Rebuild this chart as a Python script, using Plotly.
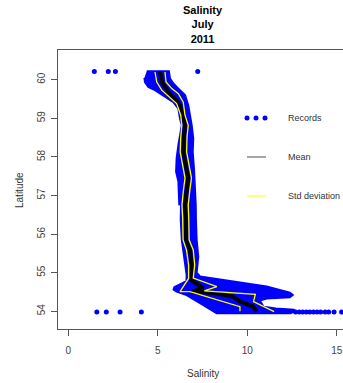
import plotly.graph_objects as go

# ---- data ----
# outline of the dense cloud of records (salinity, latitude)
cloud_sal = [4.38, 5.0, 5.62, 5.68, 5.87, 6.15, 6.52, 6.70, 6.80, 6.89, 6.98, 6.95, 7.02, 7.08, 7.12,
             7.13, 7.17, 7.26, 7.17, 7.36, 9.22, 11.08, 12.38, 12.54, 12.38, 11.08, 10.70, 10.90,
             11.60, 12.60, 12.70, 12.40, 10.5, 8.29, 7.36, 6.61, 6.05, 5.88, 5.92, 6.30, 6.60,
             6.61, 6.52, 6.42, 6.34, 6.28, 6.30, 6.20, 6.15, 6.02, 6.05, 6.15, 6.24, 6.34, 6.24,
             6.15, 5.87, 5.31, 4.84, 4.47, 4.28, 4.25]
cloud_lat = [60.22, 60.22, 60.22, 60.03, 59.90, 59.77, 59.60, 59.34, 59.08, 58.83, 58.48, 58.13,
             57.70, 57.27, 56.75, 56.37, 55.85, 55.41, 55.00, 54.90, 54.77, 54.64, 54.48, 54.42,
             54.36, 54.33, 54.28, 54.12, 54.07, 54.04, 54.00, 53.95, 53.95, 53.95, 54.21, 54.42,
             54.51, 54.56, 54.62, 54.70, 54.78, 54.94, 55.24, 55.59, 55.85, 56.37, 56.88, 56.75,
             57.36, 57.62, 57.96, 58.31, 58.57, 58.83, 58.99, 59.25, 59.42, 59.60, 59.73, 59.81,
             59.94, 60.05]

# isolated records
out_sal = [1.45, 2.23, 2.63, 7.23, 1.59, 2.12, 2.89, 4.08,
           12.7, 12.9, 13.1, 13.3, 13.5, 13.7, 13.9, 14.1, 14.35, 14.55, 14.85, 15.27]
out_lat = [60.21, 60.21, 60.21, 60.21, 53.98, 53.98, 53.98, 53.98,
           53.98, 53.98, 53.98, 53.98, 53.98, 53.98, 53.98, 53.98, 53.98, 53.98, 53.98, 53.98]

# mean
mean_sal = [5.12, 5.22, 5.59, 5.96, 6.24, 6.39, 6.50, 6.52, 6.45, 6.43, 6.55, 6.70, 6.60, 6.52,
            6.56, 6.58, 6.80, 6.89, 6.86, 7.54, 6.89, 8.10, 9.22, 9.59, 10.34, 10.52]
mean_lat = [60.22, 59.94, 59.68, 59.51, 59.34, 59.08, 58.95, 58.82, 58.50, 58.13, 57.80, 57.45,
            57.10, 56.75, 56.40, 55.85, 55.59, 55.20, 54.81, 54.60, 54.51, 54.47, 54.38, 54.25,
            54.12, 53.99]

# std deviation, left and right
sdl_sal = [4.84, 4.94, 5.22, 5.68, 6.05, 6.28, 6.34, 6.28, 6.25, 6.38, 6.52, 6.42, 6.35, 6.39,
           6.41, 6.60, 6.72, 6.72, 6.24, 6.80, 9.59, 9.59]
sdl_lat = [60.20, 59.94, 59.73, 59.55, 59.38, 59.08, 58.82, 58.50, 58.13, 57.80, 57.45, 57.10,
           56.75, 56.40, 55.85, 55.59, 55.20, 54.85, 54.51, 54.51, 54.12, 54.00]
sdr_sal = [5.40, 5.46, 5.78, 6.15, 6.42, 6.52, 6.70, 6.63, 6.61, 6.73, 6.88, 6.78, 6.70, 6.73,
           6.75, 6.98, 7.06, 6.98, 8.30, 7.60, 9.60, 10.45, 10.35, 11.50]
sdr_lat = [60.20, 59.94, 59.77, 59.64, 59.42, 59.08, 58.82, 58.50, 58.13, 57.80, 57.45, 57.10,
           56.75, 56.40, 55.85, 55.59, 55.20, 54.86, 54.64, 54.53, 54.48, 54.44, 54.25, 53.99]

x_ticks = [0, 5, 10, 15]
y_ticks = [54, 55, 56, 57, 58, 59, 60]
title_lines = ["Salinity", "July", "2011"]
legend_labels = ["Records", "Mean", "Std deviation"]

BLUE = "#0000FF"
FONT = "Liberation Sans, Arial, sans-serif"

fig = go.Figure()
fig.add_trace(go.Scatter(x=cloud_sal, y=cloud_lat, mode="lines", fill="toself",
                         fillcolor=BLUE, line=dict(color=BLUE, width=2), hoverinfo="skip"))
fig.add_trace(go.Scatter(x=out_sal, y=out_lat, mode="markers",
                         marker=dict(color=BLUE, size=5, line=dict(width=0))))
fig.add_trace(go.Scatter(x=mean_sal, y=mean_lat, mode="lines",
                         line=dict(color="black", width=4)))
fig.add_trace(go.Scatter(x=sdl_sal, y=sdl_lat, mode="lines",
                         line=dict(color="#FFFF00", width=1.3)))
fig.add_trace(go.Scatter(x=sdr_sal, y=sdr_lat, mode="lines",
                         line=dict(color="#FFFF00", width=1.3)))

W, H = 343, 383
L, R, T, B = 58, 0, 50, 54
pw, ph = W - L - R, H - T - B

def px(xp):
    return (xp - L) / pw

def py(yp):
    return (H - B - yp) / ph

axis_col = "#555555"
fig.update_layout(
    width=W, height=H, margin=dict(l=L, r=R, t=T, b=B, pad=0),
    plot_bgcolor="white", paper_bgcolor="white", showlegend=False,
    font=dict(family=FONT, size=10, color="#333333"),
    xaxis=dict(range=[-0.58, 15.35], tickvals=x_ticks, showgrid=False, zeroline=False,
               showline=True, linecolor=axis_col, linewidth=1, mirror=True,
               ticks="outside", ticklen=6, tickcolor=axis_col,
               tickfont=dict(size=10, color="#444444", family=FONT), ticklabelstandoff=6),
    yaxis=dict(range=[53.54, 60.77], tickvals=y_ticks, showgrid=False, zeroline=False,
               showline=True, linecolor=axis_col, linewidth=1,
               ticks="outside", ticklen=6, tickcolor=axis_col, tickangle=-90,
               tickfont=dict(size=10, color="#444444", family=FONT), ticklabelstandoff=2),
)

ann = []
ann.append(dict(text="<br>".join("<b>%s</b>" % t for t in title_lines), x=px(203), y=py(25),
                xref="paper", yref="paper", showarrow=False, xanchor="center",
                yanchor="middle", borderpad=0,
                font=dict(size=11, color="black", family=FONT)))
ann.append(dict(text="Salinity", x=px(203), y=py(373), xref="paper", yref="paper",
                showarrow=False, xanchor="center", yanchor="middle",
                font=dict(size=10, color="#333333", family=FONT)))
ann.append(dict(text="Latitude", x=px(19), y=py(190), xref="paper", yref="paper",
                showarrow=False, textangle=-90, xanchor="center", yanchor="middle",
                font=dict(size=10, color="#333333", family=FONT)))
for label, yp in zip(legend_labels, (118, 157, 196)):
    ann.append(dict(text=label, x=px(286), y=py(yp), xref="paper", yref="paper",
                    showarrow=False, xanchor="left", yanchor="middle",
                    font=dict(size=9, color="#333333", family=FONT)))
fig.update_layout(annotations=ann)

shapes = []
for xc in (247, 256, 265):
    shapes.append(dict(type="circle", xref="paper", yref="paper",
                       x0=px(xc - 2.5), x1=px(xc + 2.5), y0=py(118 + 2.5), y1=py(118 - 2.5),
                       fillcolor=BLUE, line=dict(width=0)))
shapes.append(dict(type="line", xref="paper", yref="paper", x0=px(247), x1=px(266),
                   y0=py(157), y1=py(157), line=dict(color="#888888", width=1.5)))
shapes.append(dict(type="line", xref="paper", yref="paper", x0=px(247), x1=px(266),
                   y0=py(196), y1=py(196), line=dict(color="#FFFF00", width=1)))
fig.update_layout(shapes=shapes)

fig.write_html("out.html")
